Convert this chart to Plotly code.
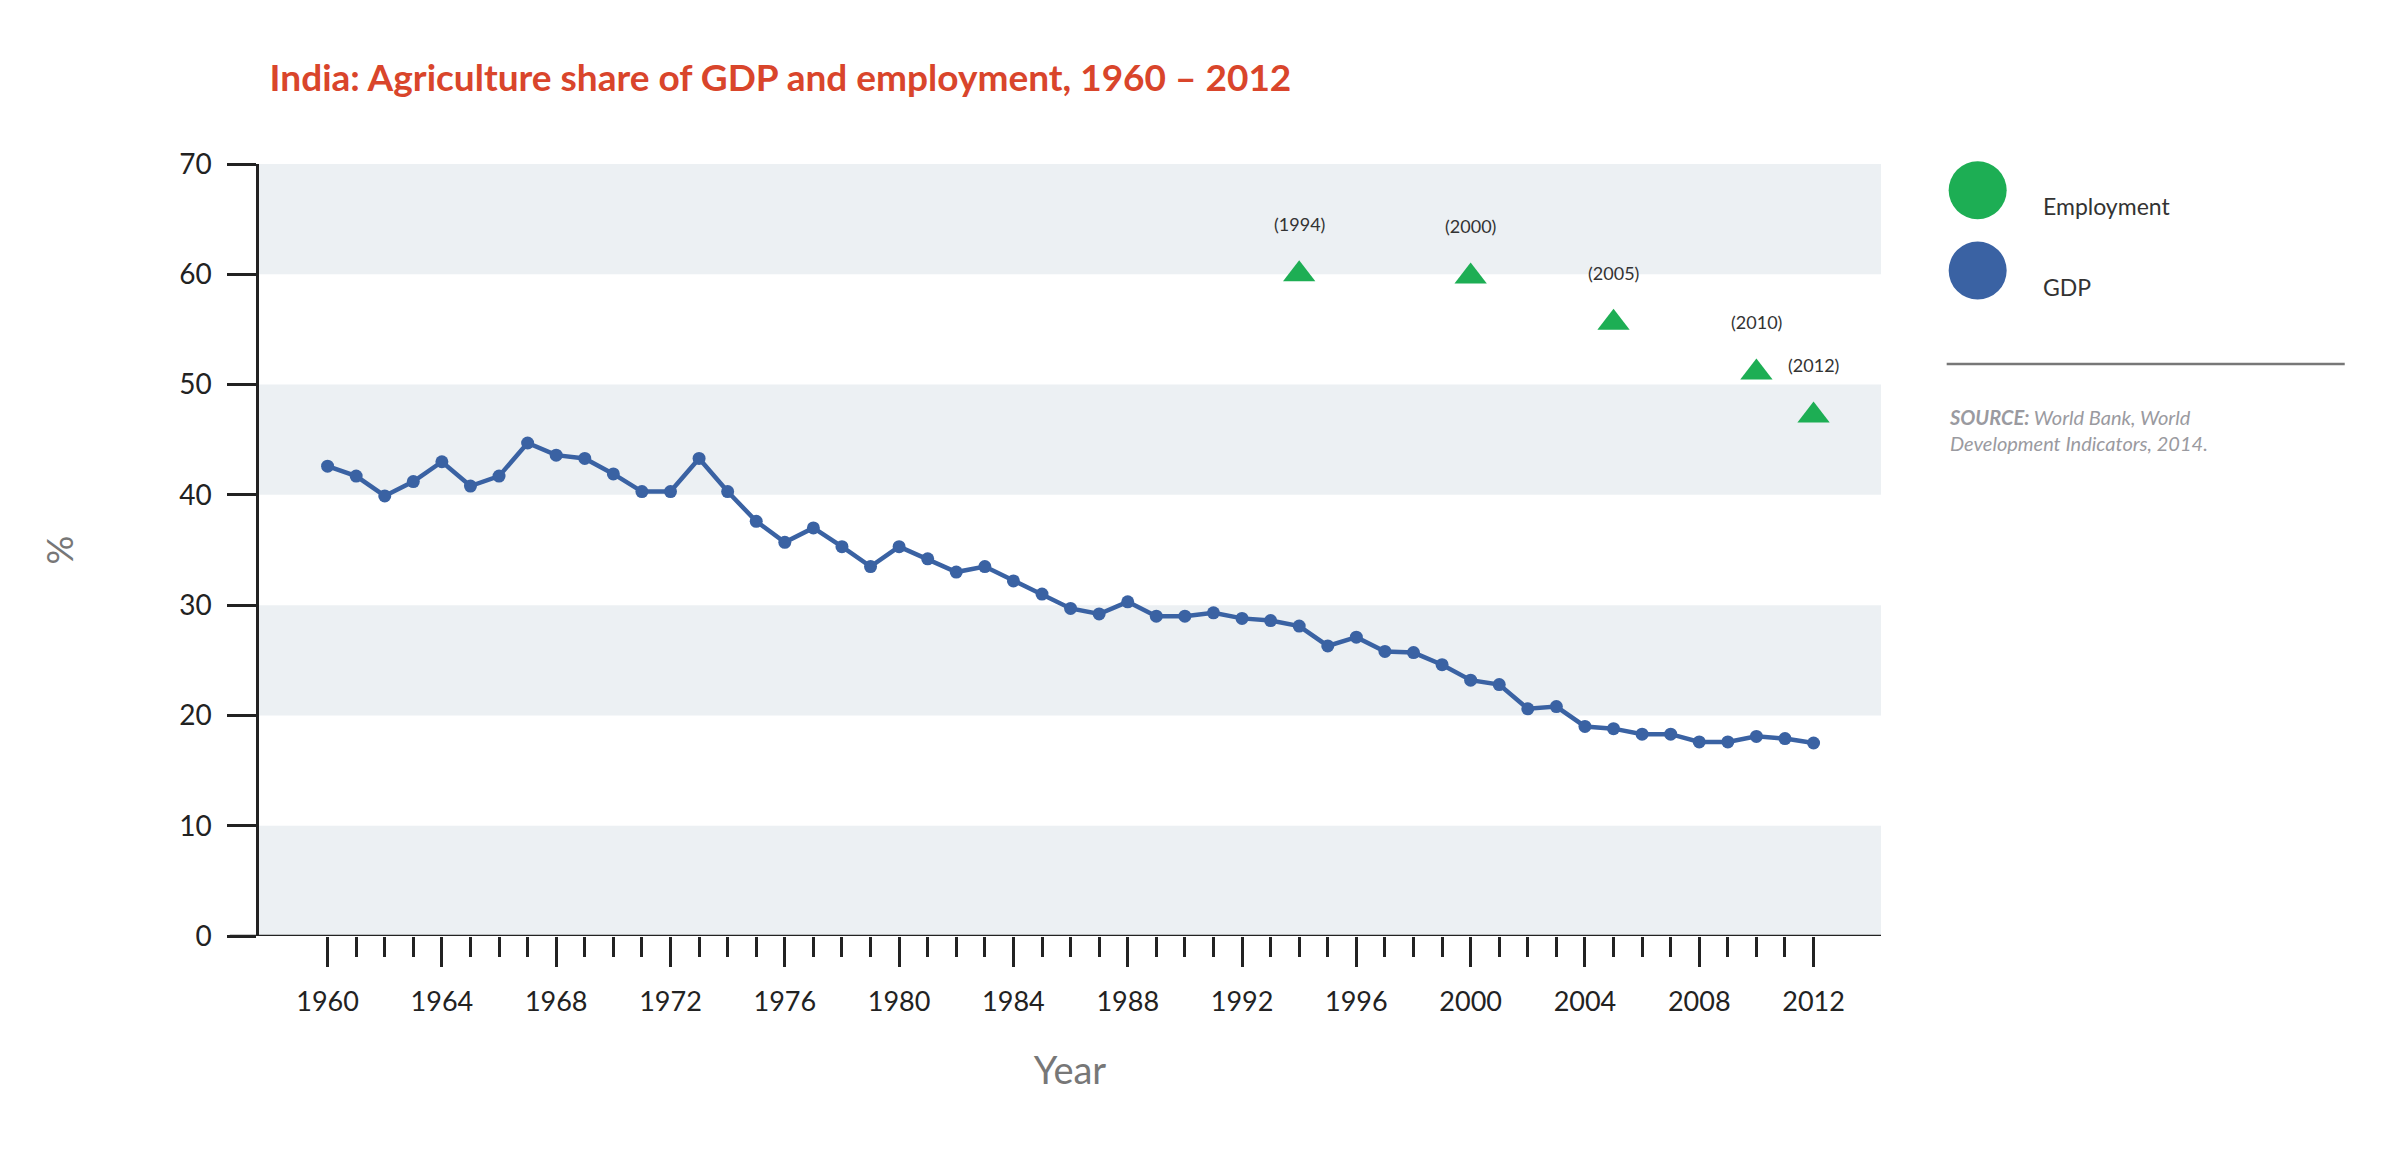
import plotly.graph_objects as go

years = list(range(1960, 2013))
gdp_share = [42.6, 41.7, 39.9, 41.2, 43.0, 40.8, 41.7, 44.7, 43.6, 43.3,
             41.9, 40.3, 40.3, 43.3, 40.3, 37.6, 35.7, 37.0, 35.3, 33.5,
             35.3, 34.2, 33.0, 33.5, 32.2, 31.0, 29.7, 29.2, 30.3, 29.0,
             29.0, 29.3, 28.8, 28.6, 28.1, 26.3, 27.1, 25.8, 25.7, 24.6,
             23.2, 22.8, 20.6, 20.8, 19.0, 18.8, 18.3, 18.3, 17.6, 17.6,
             18.1, 17.9, 17.5]
emp_years = [1994, 2000, 2005, 2010, 2012]
emp_share = [60.0, 59.8, 55.6, 51.1, 47.2]
emp_labels = ["(1994)", "(2000)", "(2005)", "(2010)", "(2012)"]

BLUE = "#3A62A3"
GREEN = "#1DAE54"
FONT = "Lato"

fig = go.Figure()
fig.add_trace(go.Scatter(x=years, y=gdp_share, mode="lines+markers", name="GDP",
                         line=dict(color=BLUE, width=4.5),
                         marker=dict(color=BLUE, size=13), showlegend=False))
fig.add_trace(go.Scatter(x=emp_years, y=emp_share, mode="markers", name="Employment",
                         marker=dict(color=GREEN, size=28, symbol="triangle-up"),
                         showlegend=False))

shapes = []
# horizontal bands
for lo in (0, 20, 40, 60):
    shapes.append(dict(type="rect", xref="paper", yref="y", x0=0, x1=1, y0=lo, y1=lo + 10,
                       fillcolor="#ECF0F3", line_width=0, layer="below"))
# x axis line extending left past y axis
shapes.append(dict(type="line", xref="paper", yref="y", x0=-0.018, x1=1, y0=0, y1=0,
                   line=dict(color="#222", width=2.5)))
# legend circles
for yy, col in ((0.966, GREEN), (0.862, BLUE)):
    shapes.append(dict(type="circle", xref="paper", yref="paper", xsizemode="pixel",
                       ysizemode="pixel", xanchor=1.0596, yanchor=yy,
                       x0=-29, x1=29, y0=-29, y1=29, fillcolor=col, line_width=0))
# separator line
shapes.append(dict(type="line", xref="paper", yref="paper", x0=1.0405, x1=1.2859,
                   y0=0.741, y1=0.741, line=dict(color="#777", width=2.5)))

annotations = []
for x, y, t in zip(emp_years, emp_share, emp_labels):
    annotations.append(dict(x=x, y=y, text=t, showarrow=False, yshift=50,
                            font=dict(family=FONT, size=18, color="#333")))
annotations += [
    dict(x=1.0985, y=0.966, xref="paper", yref="paper", text="Employment", showarrow=False,
         xanchor="left", font=dict(family=FONT, size=23, color="#333")),
    dict(x=1.0985, y=0.862, xref="paper", yref="paper", text="GDP", showarrow=False,
         xanchor="left", font=dict(family=FONT, size=23, color="#333")),
    dict(x=1.0405, y=0.69, xref="paper", yref="paper", xanchor="left", yanchor="top",
         align="left", showarrow=False,
         text="<b><i>SOURCE:</i></b><i> World Bank, World<br><span style='line-height:2'></span>Development Indicators, 2014.</i>",
         font=dict(family=FONT, size=20, color="#9A9AA0")),
]

fig.update_layout(
    width=2400, height=1171,
    margin=dict(l=251, r=527, t=156, b=243),
    plot_bgcolor="white", paper_bgcolor="white",
    font=dict(family=FONT, color="#222"),
    title=dict(text="<b>India: Agriculture share of GDP and employment, 1960 – 2012</b>",
               x=0.109, xanchor="left", y=0.94, yanchor="middle",
               font=dict(family=FONT, size=37, color="#D9452B")),
    shapes=shapes, annotations=annotations,
    xaxis=dict(range=[1957.6, 2014.36], tickmode="linear", tick0=1960, dtick=4,
               ticks="outside", ticklen=30, tickwidth=2.5, tickcolor="#222",
               minor=dict(tickmode="array", tickvals=years, ticks="outside", ticklen=20,
                          tickwidth=2.5, tickcolor="#222"),
               showgrid=False, zeroline=False, showline=False,
               tickfont=dict(size=27, color="#222"), ticklabelstandoff=12,
               title=dict(text="Year", font=dict(size=38, color="#777"), standoff=40)),
    yaxis=dict(range=[0, 70], dtick=10, ticks="outside", ticklen=29, tickwidth=2.5,
               tickcolor="#222", showline=True, linecolor="#222", linewidth=2.5,
               showgrid=False, zeroline=False, tickfont=dict(size=28, color="#222"),
               ticklabelstandoff=10,
               title=dict(text="%", font=dict(size=36, color="#777"), standoff=95)),
)

fig.write_html("out.html")
